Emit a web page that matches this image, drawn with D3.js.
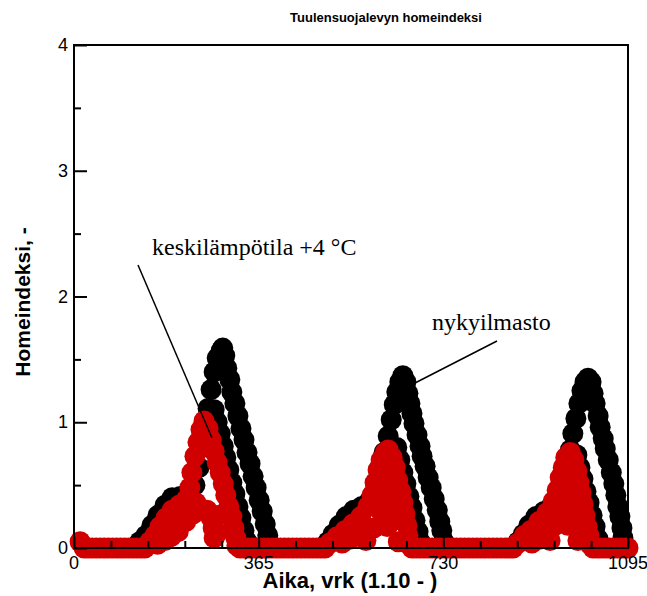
<!DOCTYPE html>
<html>
<head>
<meta charset="utf-8">
<script src="https://cdn.jsdelivr.net/npm/d3@7"></script>
<style>
body { margin: 0; background: #fff; }
text { font-family: "Liberation Sans", Arial, sans-serif; }
.note { font-family: "Liberation Serif", "Times New Roman", serif; font-size: 24px; }
</style>
</head>
<body>
<svg width="647" height="596"></svg>
<script>

// [day, mould index] — nykyilmasto (outer and inner branch)
var nykyA = [
	[130,0.05],[142,0.10],[154,0.18],[166,0.26],[180,0.34],[194,0.40],[210,0.41],[225,0.43],[239,0.50],[247,0.64],[253,0.80],[259,0.95],[265,1.11],[271,1.26],[277,1.40],[283,1.51],[291,1.57],[294,1.59],[298,1.53],[302,1.43],[308,1.34],[312,1.24],[318,1.15],[324,1.05],[330,0.95],[336,0.86],[342,0.76],[348,0.67],[354,0.57],[360,0.48],[366,0.38],[372,0.29],[378,0.19],[383,0.10],[389,0.02],
	[502,0.05],[512,0.11],[524,0.18],[538,0.25],[553,0.30],[569,0.33],[585,0.38],[597,0.50],[605,0.64],[613,0.76],[621,0.89],[627,1.02],[633,1.14],[638,1.24],[644,1.32],[650,1.37],[656,1.32],[660,1.23],[664,1.15],[668,1.07],[672,0.99],[678,0.90],[684,0.81],[688,0.73],[694,0.65],[700,0.56],[706,0.48],[712,0.39],[718,0.30],[723,0.21],[727,0.14],[731,0.05],
	[878,0.05],[888,0.11],[899,0.18],[913,0.25],[929,0.29],[943,0.33],[957,0.41],[967,0.52],[975,0.65],[981,0.78],[986,0.91],[992,1.03],[998,1.15],[1004,1.25],[1010,1.32],[1016,1.35],[1022,1.32],[1026,1.23],[1030,1.15],[1036,1.05],[1040,0.96],[1046,0.87],[1050,0.79],[1056,0.70],[1062,0.60],[1067,0.51],[1071,0.42],[1075,0.33],[1079,0.25],[1083,0.16],[1085,0.08]
];
var nykyB = [
	[277,1.10],[283,1.00],[289,0.91],[295,0.81],[300,0.72],[306,0.62],[312,0.52],[318,0.43],[324,0.33],[330,0.24],[336,0.14],[342,0.05],
	[638,0.80],[644,0.70],[650,0.60],[656,0.51],[662,0.41],[668,0.32],[674,0.22],[680,0.13],[684,0.05],
	[994,0.74],[1000,0.64],[1006,0.55],[1012,0.45],[1018,0.36],[1024,0.26],[1030,0.17],[1036,0.07]
];

// keskilämpötila +4 °C
var lampoA = [
	[12,0.05],
	[150,0.05],[160,0.10],[170,0.17],[182,0.24],[194,0.30],[208,0.34],[221,0.38],[229,0.48],[233,0.60],[239,0.73],[245,0.84],[251,0.94],[257,1.01],[265,0.95],[271,0.86],[277,0.77],[283,0.68],[289,0.60],[295,0.51],[300,0.42],[306,0.33],[312,0.25],[316,0.16],[320,0.08],[322,0.02],
	[506,0.04],[520,0.09],[536,0.14],[551,0.19],[567,0.25],[581,0.33],[589,0.42],[595,0.52],[601,0.62],[607,0.70],[615,0.76],[621,0.78],[629,0.72],[635,0.64],[640,0.54],[646,0.45],[650,0.36],[654,0.27],[658,0.18],[660,0.10],[662,0.03],
	[878,0.04],[890,0.10],[903,0.14],[919,0.21],[935,0.28],[947,0.37],[955,0.46],[961,0.56],[967,0.64],[972,0.72],[981,0.76],[988,0.70],[994,0.61],[998,0.52],[1002,0.44],[1006,0.35],[1010,0.26],[1014,0.17],[1018,0.10],[1020,0.03]
];
var lampoB = [
	[165,0.03],[180,0.06],[192,0.09],[200,0.15],[206,0.13],[221,0.21],[235,0.27],[241,0.36],[249,0.30],[263,0.30],[271,0.24],[275,0.16],[277,0.08],[283,0.12],[287,0.26],
	[530,0.04],[545,0.07],[560,0.11],[577,0.06],[593,0.16],[605,0.30],[610,0.42],[613,0.52],[615,0.41],[617,0.29],[619,0.17],[625,0.60],[628,0.48],[630,0.35],[632,0.22],[641,0.05],
	[905,0.04],[920,0.07],[931,0.10],[941,0.06],[951,0.18],[960,0.30],[966,0.42],[970,0.54],[972,0.42],[974,0.30],[976,0.18],[983,0.60],[986,0.48],[988,0.35],[990,0.22],[996,0.06]
];
// days with index 0 in the +4 °C run
var lampoZeroDays = [20,28,36,44,52,60,68,76,84,92,100,108,116,124,132,140,
	328,336,344,352,360,368,376,384,392,400,408,416,424,432,440,448,456,464,472,480,488,496,
	668,676,684,692,700,708,716,724,732,740,748,756,764,772,780,788,796,804,812,820,828,836,844,852,860,868,
	1026,1034,1042,1050,1058,1066,1074,1082,1090,1095];

var xMajor = [0, 365, 730, 1095];
var xMinor = [73, 146, 219, 292, 438, 511, 584, 657, 803, 876, 949, 1022];
var yMajor = [0, 1, 2, 3, 4];
var yMinor = [0.5, 1.5, 2.5, 3.5];

var svg = d3.select("svg");
var plotLeft = 74, plotRight = 628, plotTop = 45, plotBottom = 548;

var x = d3.scaleLinear().domain([0, 1095]).range([plotLeft, plotRight]);
var y = d3.scaleLinear().domain([0, 4]).range([plotBottom, plotTop]);
var r = 10.5;

function dots(data, color) {
	svg.append("g").selectAll("circle")
		.data(data)
		.enter().append("circle")
		.attr("cx", function(d) { return x(d[0]); })
		.attr("cy", function(d) { return y(d[1]); })
		.attr("r", r)
		.attr("fill", color);
}

dots(nykyA, "#000");
dots(nykyB, "#000");
dots(lampoZeroDays.map(function(d) { return [d, 0]; }), "#d00000");
dots(lampoA, "#d00000");
dots(lampoB, "#d00000");

// frame
svg.append("rect")
	.attr("x", plotLeft).attr("y", plotTop)
	.attr("width", plotRight - plotLeft).attr("height", plotBottom - plotTop)
	.attr("fill", "none").attr("stroke", "#000").attr("stroke-width", 2);

// inward ticks
var xAxis = svg.append("g").attr("transform", "translate(0," + plotBottom + ")");
xAxis.call(d3.axisTop(x).tickValues(xMajor).tickSize(11).tickFormat(""));
xAxis.append("g").call(d3.axisTop(x).tickValues(xMinor).tickSize(7).tickFormat(""));
var yAxis = svg.append("g").attr("transform", "translate(" + plotLeft + ",0)");
yAxis.call(d3.axisRight(y).tickValues(yMajor).tickSize(13).tickFormat(""));
yAxis.append("g").call(d3.axisRight(y).tickValues(yMinor).tickSize(7).tickFormat(""));
svg.selectAll(".domain").remove();
svg.selectAll(".tick line").attr("stroke", "#000").attr("stroke-width", 2);

// tick labels
svg.append("g").selectAll("text")
	.data(xMajor)
	.enter().append("text")
	.attr("x", function(d) { return x(d); })
	.attr("y", plotBottom + 21)
	.attr("text-anchor", "middle")
	.attr("font-size", 18)
	.text(function(d) { return d; });
svg.append("g").selectAll("text")
	.data(yMajor)
	.enter().append("text")
	.attr("x", plotLeft - 6)
	.attr("y", function(d) { return y(d) + 6; })
	.attr("text-anchor", "end")
	.attr("font-size", 18)
	.text(function(d) { return d; });

// titles
svg.append("text")
	.attr("x", 386).attr("y", 22)
	.attr("text-anchor", "middle")
	.attr("font-size", 13).attr("font-weight", "bold")
	.text("Tuulensuojalevyn homeindeksi");
svg.append("text")
	.attr("x", 350).attr("y", 588)
	.attr("text-anchor", "middle")
	.attr("font-size", 22).attr("font-weight", "bold")
	.text("Aika, vrk (1.10 - )");
svg.append("text")
	.attr("transform", "translate(30,302) rotate(-90)")
	.attr("text-anchor", "middle")
	.attr("font-size", 21).attr("font-weight", "bold")
	.text("Homeindeksi, -");

// annotations
svg.append("text").attr("class", "note").attr("x", 152).attr("y", 255).text("keskilämpötila +4 °C");
svg.append("text").attr("class", "note").attr("x", 432).attr("y", 330).text("nykyilmasto");
svg.append("line")
	.attr("x1", 138).attr("y1", 265).attr("x2", 212).attr("y2", 438)
	.attr("stroke", "#000").attr("stroke-width", 1.5);
svg.append("line")
	.attr("x1", 497).attr("y1", 341).attr("x2", 415).attr("y2", 383)
	.attr("stroke", "#000").attr("stroke-width", 1.5);

</script>
</body>
</html>
